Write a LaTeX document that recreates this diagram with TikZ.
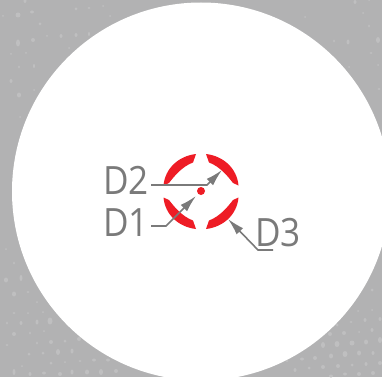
\documentclass[tikz,border=0pt]{standalone}
\usepackage{fontspec}
\setmainfont{Open Sans}
\usetikzlibrary{arrows.meta}
\definecolor{bggray}{HTML}{B2B2B3}
\definecolor{speck}{HTML}{BFBFC0}
\definecolor{ringred}{HTML}{EE1C25}
\definecolor{leadgray}{HTML}{7A7A7A}
\tikzset{
  lead/.style={draw=leadgray,line width=1.6pt,-{Latex[length=17pt,width=9pt]}},
  lbl/.style={text=leadgray,font=\fontsize{39}{39}\selectfont,inner sep=0pt,xscale=.9},
  seg/.style={fill=ringred,draw=none},
}
\begin{document}
\begin{tikzpicture}[x=1pt,y=-1pt]
\useasboundingbox (0,0) rectangle (382,377);
\fill[bggray] (0,0) rectangle (382,377);
\foreach \x/\y/\a/\b in {
18/15/2.5/2.5,32/12/2/1.5,25/1/1.5/2,3/16/1/1,40/24/1.5/1.5,76/9/1.5/1.5,89/8/1.5/1,103/6/1/1,110/16/1/1,18/43/2/3.5,33/40/2/2,47/36/1/1,61/36/1.5/2,76/35/1.5/2,89/34/1/2,69/48/1/1,11/54/1/1,26/53/1/1,19/67/1/1.5,34/66/1/2,11/81/1.5/2,34/90/1/1,19/95/2/2.5,20/117/1/1,
6/249/1/1,14/263/1/1.5,6/280/2/2.5,21/278/1.5/3,14/294/2/2.5,28/292/1.5/1,37/302/1/1,14/313/1.5/1,37/322/1.5/2.5,50/321/2.5/3.5,21/323/1.5/2,7/323/1/1.5,43/312/1/1,28/313/1/1,14/334/2/2,30/333/1/1.5,44/331/1/1,51/342/2/2,65/341/1.5/1.5,79/339/2/2,37/343/1/1.5,7/345/1.5/1,29/354/1.5/1.5,43/353/1.5/1.5,58/352/2/3,72/351/1.5/2.5,51/363/1.5/1.5,65/362/1/1,80/361/1.5/1,94/360/2/1.5,108/360/2/1.5,22/366/1/1,14/372/1.5/3,30/374/1.5/2,44/373/2/1.5,60/374/2/2,72/372/1.5/2.5,87/372/2/2.5,101/372/2/3,116/371/2/2,
372/290/1.5/1.5,358/311/1/1,372/310/1/1,380/319/1.5/2,365/320/1.5/2,351/322/1.5/1,337/325/1.5/1.5,344/333/2/2,359/332/1/1,372/330/1.5/2,330/334/2/2,380/340/2/3,366/342/2/2.5,352/343/2.5/2.5,337/344/2.5/3,323/345/2/3,315/358/2/2,331/356/2/2.5,345/354/2.5/3,359/353/2/2.5,373/353/1.5/2,302/359/2/1.5,287/361/1.5/1,295/370/1.5/2,309/368/1.5/1.5,323/367/2/2,338/366/2/2,352/365/1.5/1.5,366/364/1.5/2,380/363/2/2,345/374/2/1.5,359/374/2/2,373/373/2/2,331/376/2/1.5,
355/2/1.5/2,369/0/1/1,363/13/1/1,305/17/1/1,369/26/1/1.5,334/41/1/1.5,348/42/1.5/2.5,378/40/2/3,371/53/1.5/1,378/65/1/1,349/67/1/1,379/89/1.5/1}
  \fill[speck] (\x,\y) ellipse [x radius=\a,y radius=\b];
\fill[white] (201,191.5) circle [radius=189];
\foreach \sx/\sy in {1/1,-1/1,1/-1,-1/-1}
  \fill[seg,shift={(201,191.5)},xscale=\sx,yscale=\sy]
    (5,-37.5) .. controls (22.5,-35.5) and (36,-23) .. (37.5,-6)
    -- (32,-8.5)
    .. controls (27,-15) and (19,-25) .. (8,-29)
    -- cycle;
\coordinate (c) at (201,191);
\fill[ringred] (c) circle [radius=4];
\node[lbl] (dtwo) at (126,180) {D2};
\node[lbl] (done) at (126,223) {D1};
\node[lbl] (dthree) at (278,233) {D3};
\coordinate (t2) at (222,170);
\coordinate (t1) at (196,196);
\coordinate (t3) at (228,219);
\coordinate (s2) at (151,185);
\coordinate (k2) at (207,185);
\coordinate (s1) at (151,226);
\coordinate (k1) at (166,226);
\coordinate (s3) at (273,250);
\coordinate (k3) at (258,250);
\draw[lead] (s2) -- (k2) -- (t2);
\draw[lead] (s1) -- (k1) -- (t1);
\draw[lead] (s3) -- (k3) -- (t3);
\end{tikzpicture}
\end{document}
